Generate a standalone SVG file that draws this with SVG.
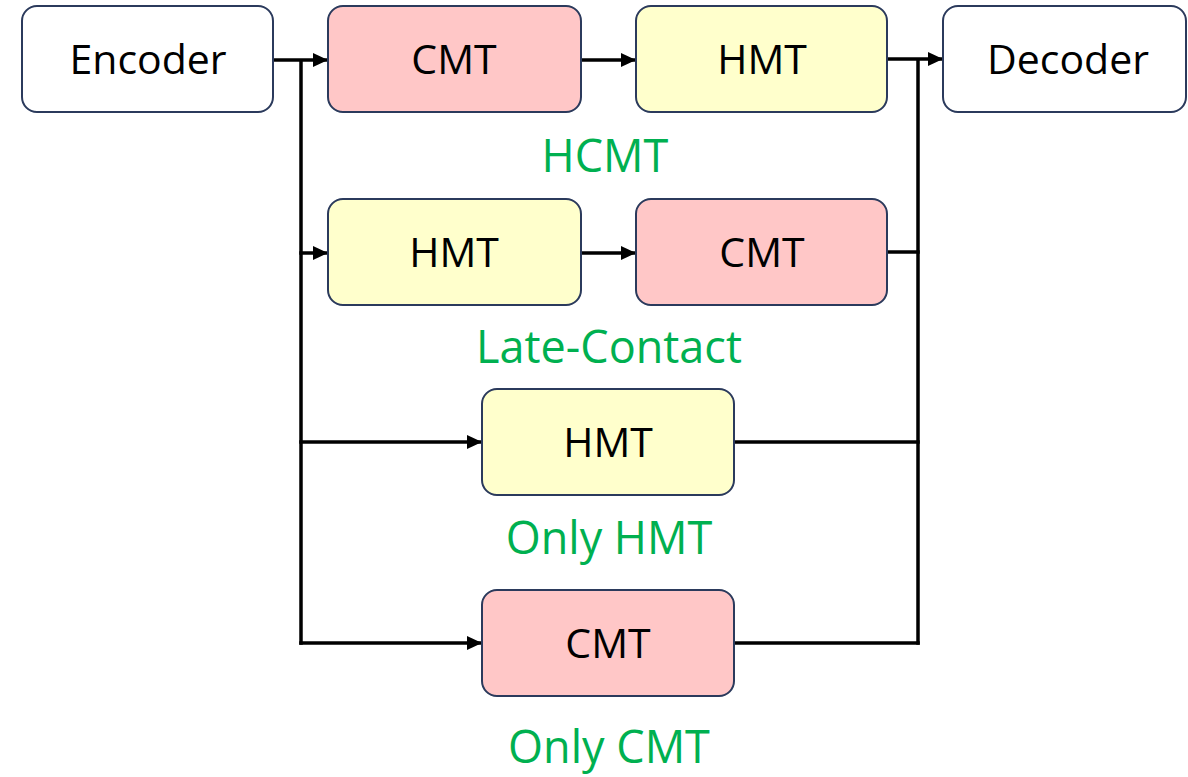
<svg xmlns="http://www.w3.org/2000/svg" width="1188" height="777" viewBox="0 0 1188 777">
<style>
.box{stroke:#2B3A5C;stroke-width:2}
.w{fill:#FFFFFF}
.p{fill:#FFC7C7}
.y{fill:#FFFFCC}
.t{font-family:"Open Sans","Liberation Sans",sans-serif;font-size:41px;fill:#000;text-anchor:middle}
.g{font-family:"Open Sans","Liberation Sans",sans-serif;font-size:45px;fill:#00B050;text-anchor:middle}
.c{stroke:#000;stroke-width:3.5;fill:none}
.a{marker-end:url(#arr)}
</style>
<defs>
<marker id="arr" markerUnits="userSpaceOnUse" markerWidth="16" markerHeight="14" refX="15" refY="7" orient="auto">
<path d="M0,0 L15,7 L0,14 z" fill="#000"/>
</marker>
</defs>
<rect width="1188" height="777" fill="#fff"/>
<g id="connectors">
<line class="c" x1="301" y1="60" x2="301" y2="644.75"/>
<line class="c" x1="918" y1="59" x2="918" y2="644.75"/>
<line class="c a" x1="273" y1="60" x2="328" y2="60"/>
<line class="c a" x1="299.25" y1="253" x2="328" y2="253"/>
<line class="c a" x1="299.25" y1="442" x2="482" y2="442"/>
<line class="c a" x1="299.25" y1="643" x2="482" y2="643"/>
<line class="c a" x1="581" y1="60" x2="636" y2="60"/>
<line class="c a" x1="581" y1="253" x2="636" y2="253"/>
<line class="c a" x1="887" y1="59" x2="943" y2="59"/>
<line class="c" x1="887" y1="252" x2="919.75" y2="252"/>
<line class="c" x1="734" y1="442" x2="919.75" y2="442"/>
<line class="c" x1="734" y1="643" x2="919.75" y2="643"/>
</g>
<g id="encoder"><rect class="box w" x="22" y="6" width="251" height="106" rx="15"/><text class="t" x="148" y="74">Encoder</text></g>
<g id="cmt1"><rect class="box p" x="328" y="6" width="253" height="106" rx="15"/><text class="t" x="454" y="74">CMT</text></g>
<g id="hmt1"><rect class="box y" x="636" y="6" width="251" height="106" rx="15"/><text class="t" x="762" y="74">HMT</text></g>
<g id="decoder"><rect class="box w" x="943" y="6" width="243" height="106" rx="15"/><text class="t" x="1068" y="74">Decoder</text></g>
<g id="label-hcmt"><text class="g" x="605" y="172">HCMT</text></g>
<g id="hmt2"><rect class="box y" x="328" y="199" width="253" height="106" rx="15"/><text class="t" x="454" y="267">HMT</text></g>
<g id="cmt2"><rect class="box p" x="636" y="199" width="251" height="106" rx="15"/><text class="t" x="762" y="267">CMT</text></g>
<g id="label-late"><text class="g" x="609" y="363">Late-Contact</text></g>
<g id="hmt3"><rect class="box y" x="482" y="389" width="252" height="106" rx="15"/><text class="t" x="608" y="457">HMT</text></g>
<g id="label-onlyhmt"><text class="g" x="609" y="554">Only HMT</text></g>
<g id="cmt3"><rect class="box p" x="482" y="590" width="252" height="106" rx="15"/><text class="t" x="608" y="658">CMT</text></g>
<g id="label-onlycmt"><text class="g" x="609" y="763">Only CMT</text></g>
</svg>
